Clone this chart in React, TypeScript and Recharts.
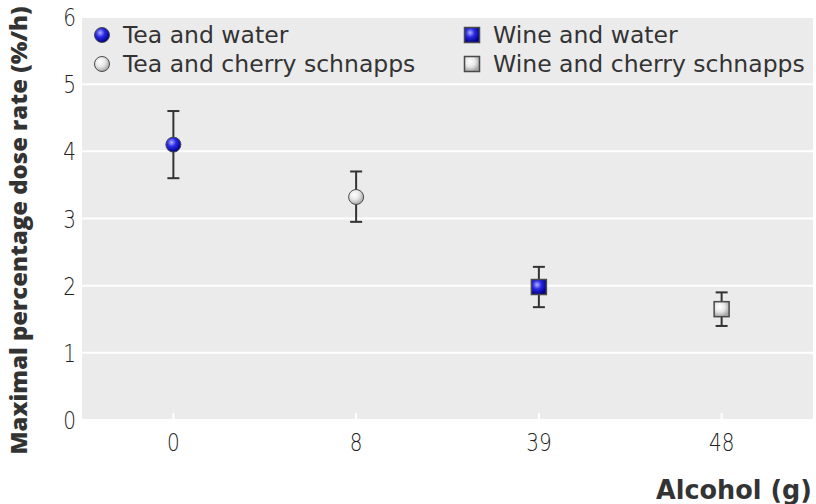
import React from 'react';
import { ComposedChart, Scatter, ErrorBar, XAxis, YAxis, CartesianGrid } from 'recharts';

// alcohol dose per condition (g) – category labels on the x axis
const alcoholLabels = ['0', '8', '39', '48'];
const yTicks = [0, 1, 2, 3, 4, 5, 6];

// maximal percentage dose rate (%/h)
const teaWater = [{ x: 0, y: 4.1, err: [0.5, 0.5] }];
const teaSchnapps = [{ x: 1, y: 3.32, err: [0.37, 0.38] }];
const wineWater = [{ x: 2, y: 1.98, err: [0.3, 0.3] }];
const wineSchnapps = [{ x: 3, y: 1.65, err: [0.25, 0.25] }];

const TICK_FONT = '"DejaVu Sans", sans-serif';

const Gradients = ({ prefix }: { prefix: string }) => (
  <defs>
    <radialGradient id={`${prefix}-blue`} cx="38%" cy="35%" r="65%">
      <stop offset="0%" stopColor="#b0b0ff" />
      <stop offset="45%" stopColor="#2a2ae6" />
      <stop offset="100%" stopColor="#00008a" />
    </radialGradient>
    <radialGradient id={`${prefix}-white`} cx="38%" cy="35%" r="65%">
      <stop offset="0%" stopColor="#ffffff" />
      <stop offset="50%" stopColor="#e8e8e8" />
      <stop offset="100%" stopColor="#a8a8a8" />
    </radialGradient>
  </defs>
);

const Ball = ({ cx, cy, fill }: { cx?: number; cy?: number; fill: string }) => (
  <circle cx={cx} cy={cy} r={7.5} fill={fill} stroke="#4a4a4a" strokeWidth={1} />
);

const Box = ({ cx, cy, fill }: { cx?: number; cy?: number; fill: string }) => (
  <rect x={(cx ?? 0) - 7.5} y={(cy ?? 0) - 7.5} width={15} height={15} fill={fill} stroke="#4a4a4a" strokeWidth={1.5} />
);

// narrow light tick text, squeezed horizontally to look condensed
const TickText = ({ x, y, anchor, children }: { x: number; y: number; anchor: string; children: any }) => (
  <text
    transform={`translate(${x} ${y}) scale(0.8 1)`}
    textAnchor={anchor}
    fontFamily={TICK_FONT}
    fontWeight={300}
    fontSize={25}
    fill="#222"
  >
    {children}
  </text>
);

const XTick = (props: any) => {
  const { x, y, payload } = props;
  return (
    <g>
      <line x1={x} x2={x} y1={y} y2={y - 7} stroke="#ffffff" strokeWidth={2} />
      <TickText x={x} y={y + 31} anchor="middle">
        {alcoholLabels[payload.value]}
      </TickText>
    </g>
  );
};

const YTick = (props: any) => {
  const { x, y, payload } = props;
  return (
    <TickText x={x} y={y + 9} anchor="end">
      {payload.value}
    </TickText>
  );
};

const legendItems = [
  { label: 'Tea and water', shape: 'ball', fill: 'lg-blue' },
  { label: 'Wine and water', shape: 'box', fill: 'lg-blue' },
  { label: 'Tea and cherry schnapps', shape: 'ball', fill: 'lg-white' },
  { label: 'Wine and cherry schnapps', shape: 'box', fill: 'lg-white' },
];

const ChartLegend = () => (
  <div
    style={{
      position: 'absolute',
      left: 92,
      top: 21,
      width: 720,
      display: 'grid',
      gridTemplateColumns: '370px 350px',
      rowGap: 2,
      fontFamily: '"DejaVu Sans", sans-serif',
      fontSize: 23.5,
      color: '#333',
    }}
  >
    {legendItems.map((it) => (
      <div key={it.label} style={{ display: 'flex', alignItems: 'center', height: 27 }}>
        <svg width={20} height={20} style={{ marginRight: 11 }}>
          <Gradients prefix="lg" />
          {it.shape === 'ball' ? (
            <Ball cx={10} cy={10} fill={`url(#${it.fill})`} />
          ) : (
            <Box cx={10} cy={10} fill={`url(#${it.fill})`} />
          )}
        </svg>
        <span>{it.label}</span>
      </div>
    ))}
  </div>
);

const errProps = { dataKey: 'err', direction: 'y' as const, width: 6, stroke: '#333', strokeWidth: 2 };

export default function App() {
  return (
    <div style={{ position: 'fixed', left: 0, top: 0, width: 816, height: 504, background: '#fff' }}>
      <ComposedChart width={816} height={504} margin={{ top: 17, right: 3, bottom: 0, left: 0 }}>
        <Gradients prefix="pt" />
        <CartesianGrid vertical={false} fill="#ebebeb" stroke="#ffffff" strokeWidth={2} />
        <XAxis
          type="number"
          dataKey="x"
          domain={[-0.5, 3.5]}
          ticks={[0, 1, 2, 3]}
          axisLine={false}
          tickLine={false}
          tickSize={0}
          tickMargin={0}
          height={84}
          tick={<XTick />}
          label={{
            content: () => (
              <text
                x={812}
                y={499}
                textAnchor="end"
                textLength={156}
                lengthAdjust="spacingAndGlyphs"
                fontFamily='"DejaVu Sans", sans-serif'
                fontWeight="bold"
                fontSize={26}
                fill="#333"
              >
                Alcohol (g)
              </text>
            ),
          }}
        />
        <YAxis
          type="number"
          domain={[0, 6]}
          ticks={yTicks}
          axisLine={false}
          tickLine={false}
          tickSize={0}
          tickMargin={6}
          width={82}
          tick={<YTick />}
          label={{
            content: (p: any) => {
              const vb = p.viewBox || { y: 17, height: 403 };
              const cy = vb.y + vb.height / 2 + 12;
              return (
                <text
                  x={27}
                  y={cy}
                  transform={`rotate(-90 27 ${cy})`}
                  textAnchor="middle"
                  textLength={448}
                  lengthAdjust="spacingAndGlyphs"
                  fontFamily='"Open Sans", sans-serif'
                  fontWeight={800}
                  fontSize={23}
                  fill="#333"
                >
                  Maximal percentage dose rate (%/h)
                </text>
              );
            },
          }}
        />
        <Scatter data={teaWater} dataKey="y" isAnimationActive={false} shape={(p: any) => <Ball cx={p.cx} cy={p.cy} fill="url(#pt-blue)" />}>
          <ErrorBar {...errProps} />
        </Scatter>
        <Scatter data={teaSchnapps} dataKey="y" isAnimationActive={false} shape={(p: any) => <Ball cx={p.cx} cy={p.cy} fill="url(#pt-white)" />}>
          <ErrorBar {...errProps} />
        </Scatter>
        <Scatter data={wineWater} dataKey="y" isAnimationActive={false} shape={(p: any) => <Box cx={p.cx} cy={p.cy} fill="url(#pt-blue)" />}>
          <ErrorBar {...errProps} />
        </Scatter>
        <Scatter data={wineSchnapps} dataKey="y" isAnimationActive={false} shape={(p: any) => <Box cx={p.cx} cy={p.cy} fill="url(#pt-white)" />}>
          <ErrorBar {...errProps} />
        </Scatter>
      </ComposedChart>
      <ChartLegend />
    </div>
  );
}
